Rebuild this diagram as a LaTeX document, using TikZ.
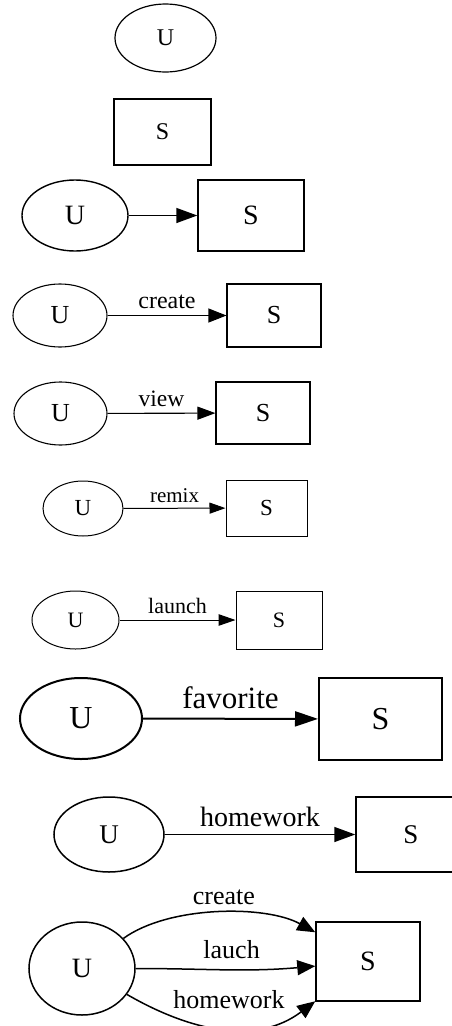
\documentclass[tikz,border=0pt]{standalone}
\usepackage{fontspec}
\setmainfont{Liberation Serif}
\usetikzlibrary{shapes.geometric,arrows.meta}
\newcommand{\txtsize}[1]{\fontsize{#1}{#1}\selectfont}

\begin{document}
\begin{tikzpicture}[x=1pt,y=1pt,
    user/.style={ellipse,draw,inner sep=0pt},
    sheet/.style={rectangle,draw,inner sep=0pt},
    act/.style={inner sep=0pt,above=#1}]
        \useasboundingbox (0,0) rectangle (451,-1026);
        %% single nodes
        \node[user,line width=1.2pt,minimum width=101pt,minimum height=68pt,font=\txtsize{24}] (u1) at (165.5,-38) {U};
        \node[sheet,line width=1.2pt,minimum width=97pt,minimum height=66pt,font=\txtsize{24}] (s2) at (162.5,-132) {S};
        %% plain edge
        \node[user,line width=1.4pt,minimum width=106pt,minimum height=71pt,font=\txtsize{28}] (u3) at (75,-215.5) {U};
        \node[sheet,line width=1.4pt,minimum width=106pt,minimum height=71pt,font=\txtsize{28}] (s3) at (251,-215.5) {S};
        \draw[line width=1.4pt,-{Triangle[length=21pt,width=15pt]}] (u3) -- (s3);
        %% create
        \node[user,line width=1.1pt,minimum width=94pt,minimum height=63pt,font=\txtsize{26}] (u4) at (60,-315.5) {U};
        \node[sheet,line width=1.1pt,minimum width=94pt,minimum height=63pt,font=\txtsize{26}] (s4) at (274,-315.5) {S};
        \draw[line width=1.1pt,-{Triangle[length=18pt,width=14pt]}] (u4) -- node[act=6pt,font=\txtsize{24}] {create} (s4);
        %% view
        \node[user,line width=1.1pt,minimum width=93pt,minimum height=63pt,font=\txtsize{26}] (u5) at (60.5,-413.5) {U};
        \node[sheet,line width=1.1pt,minimum width=94pt,minimum height=62pt,font=\txtsize{26}] (s5) at (263,-413) {S};
        \draw[line width=1.1pt,-{Triangle[length=18pt,width=13pt]}] (u5) -- node[act=6pt,font=\txtsize{23.5}] {view} (s5);
        %% remix
        \node[user,line width=1pt,minimum width=80pt,minimum height=55pt,font=\txtsize{23}] (u6) at (83,-508.5) {U};
        \node[sheet,line width=1pt,minimum width=81pt,minimum height=56pt,font=\txtsize{23}] (s6) at (266.5,-508) {S};
        \draw[line width=1pt,-{Triangle[length=16pt,width=11pt]}] (u6) -- node[act=5pt,font=\txtsize{21}] {remix} (s6);
        %% launch
        \node[user,line width=1pt,minimum width=87pt,minimum height=58pt,font=\txtsize{22}] (u7) at (75.5,-620) {U};
        \node[sheet,line width=1pt,minimum width=86pt,minimum height=58pt,font=\txtsize{22}] (s7) at (279,-620) {S};
        \draw[line width=1pt,-{Triangle[length=17pt,width=11.5pt]}] (u7) -- node[act=6pt,font=\txtsize{22}] {launch} (s7);
        %% favorite
        \node[user,line width=2pt,minimum width=122pt,minimum height=81pt,font=\txtsize{32}] (u8) at (81,-718.5) {U};
        \node[sheet,line width=2pt,minimum width=123pt,minimum height=82pt,font=\txtsize{32}] (s8) at (380.5,-719) {S};
        \draw[line width=2pt,-{Triangle[length=23pt,width=15pt]}] (u8) -- node[act=9pt,font=\txtsize{31}] {favorite} (s8);
        %% homework
        \node[user,line width=1.5pt,minimum width=110pt,minimum height=75pt,font=\txtsize{27}] (u9) at (109,-834.5) {U};
        \node[sheet,line width=1.5pt,minimum width=110pt,minimum height=75pt,font=\txtsize{27}] (s9) at (411,-834.5) {S};
        \draw[line width=1.5pt,-{Triangle[length=21pt,width=15pt]}] (u9) -- node[act=7pt,font=\txtsize{28}] {homework} (s9);
        %% three edges
        \node[user,line width=1.5pt,minimum width=106pt,minimum height=93pt,font=\txtsize{28}] (u10) at (82,-968.5) {U};
        \node[sheet,line width=1.5pt,minimum width=104pt,minimum height=79pt,font=\txtsize{28}] (s10) at (368,-961.5) {S};
        \draw[line width=1.5pt,-{Triangle[length=18pt,width=15pt]}] (u10) to[out=36,in=151,looseness=0.75] node[act=7pt,xshift=6pt,font=\txtsize{26}] {create} (s10);
        \draw[line width=1.5pt,-{Triangle[length=18pt,width=15pt]}] (u10) to[out=0,in=185] node[act=10pt,xshift=6pt,font=\txtsize{26}] {lauch} (s10);
        \draw[line width=1.5pt,-{Triangle[length=18pt,width=15pt]}] (u10) to[out=-30,in=-143] node[act=19pt,xshift=6pt,font=\txtsize{26}] {homework} (s10);
    \end{tikzpicture}
\end{document}
